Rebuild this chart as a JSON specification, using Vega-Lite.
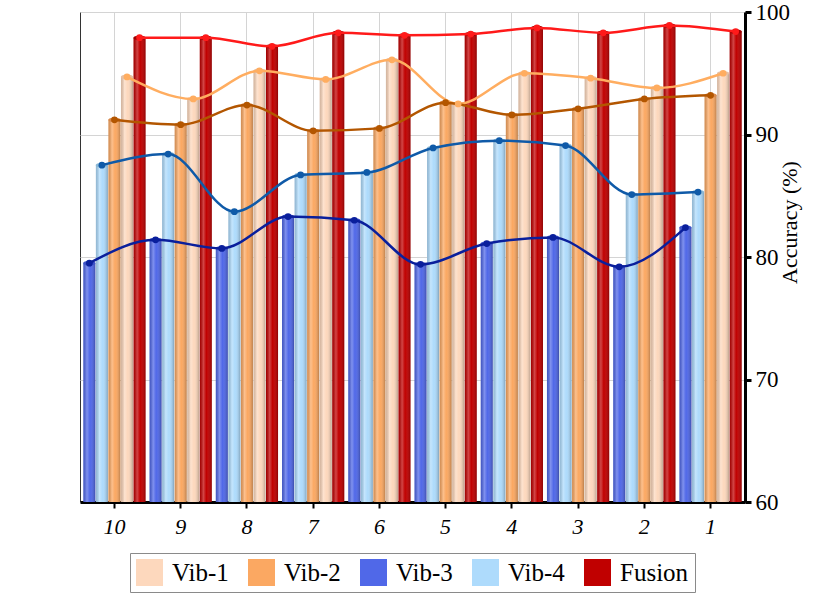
{
  "$schema": "https://vega.github.io/schema/vega-lite/v6.json",
  "width": 665,
  "height": 490,
  "autosize": {"type": "none"},
  "padding": {"left": 80, "top": 12, "right": 68, "bottom": 99},
  "background": "white",
  "config": {
    "font": "Liberation Serif, Times New Roman, Times, serif",
    "view": {"stroke": "#333333", "strokeWidth": 1}
  },
  "data": {
    "values": [
      {"fold": "10", "series": "Fusion", "acc": 97.9},
      {"fold": "9", "series": "Fusion", "acc": 97.9},
      {"fold": "8", "series": "Fusion", "acc": 97.2},
      {"fold": "7", "series": "Fusion", "acc": 98.3},
      {"fold": "6", "series": "Fusion", "acc": 98.1},
      {"fold": "5", "series": "Fusion", "acc": 98.2},
      {"fold": "4", "series": "Fusion", "acc": 98.7},
      {"fold": "3", "series": "Fusion", "acc": 98.3},
      {"fold": "2", "series": "Fusion", "acc": 98.9},
      {"fold": "1", "series": "Fusion", "acc": 98.4},
      {"fold": "10", "series": "Vib-1", "acc": 94.7},
      {"fold": "9", "series": "Vib-1", "acc": 92.9},
      {"fold": "8", "series": "Vib-1", "acc": 95.2},
      {"fold": "7", "series": "Vib-1", "acc": 94.5},
      {"fold": "6", "series": "Vib-1", "acc": 96.1},
      {"fold": "5", "series": "Vib-1", "acc": 92.5},
      {"fold": "4", "series": "Vib-1", "acc": 95.0},
      {"fold": "3", "series": "Vib-1", "acc": 94.6},
      {"fold": "2", "series": "Vib-1", "acc": 93.8},
      {"fold": "1", "series": "Vib-1", "acc": 95.0},
      {"fold": "10", "series": "Vib-2", "acc": 91.2},
      {"fold": "9", "series": "Vib-2", "acc": 90.8},
      {"fold": "8", "series": "Vib-2", "acc": 92.4},
      {"fold": "7", "series": "Vib-2", "acc": 90.3},
      {"fold": "6", "series": "Vib-2", "acc": 90.5},
      {"fold": "5", "series": "Vib-2", "acc": 92.6},
      {"fold": "4", "series": "Vib-2", "acc": 91.6},
      {"fold": "3", "series": "Vib-2", "acc": 92.1},
      {"fold": "2", "series": "Vib-2", "acc": 92.9},
      {"fold": "1", "series": "Vib-2", "acc": 93.2},
      {"fold": "10", "series": "Vib-4", "acc": 87.5},
      {"fold": "9", "series": "Vib-4", "acc": 88.4},
      {"fold": "8", "series": "Vib-4", "acc": 83.7},
      {"fold": "7", "series": "Vib-4", "acc": 86.7},
      {"fold": "6", "series": "Vib-4", "acc": 86.9},
      {"fold": "5", "series": "Vib-4", "acc": 88.9},
      {"fold": "4", "series": "Vib-4", "acc": 89.5},
      {"fold": "3", "series": "Vib-4", "acc": 89.1},
      {"fold": "2", "series": "Vib-4", "acc": 85.1},
      {"fold": "1", "series": "Vib-4", "acc": 85.3},
      {"fold": "10", "series": "Vib-3", "acc": 79.5},
      {"fold": "9", "series": "Vib-3", "acc": 81.4},
      {"fold": "8", "series": "Vib-3", "acc": 80.7},
      {"fold": "7", "series": "Vib-3", "acc": 83.3},
      {"fold": "6", "series": "Vib-3", "acc": 83.0},
      {"fold": "5", "series": "Vib-3", "acc": 79.4},
      {"fold": "4", "series": "Vib-3", "acc": 81.1},
      {"fold": "3", "series": "Vib-3", "acc": 81.6},
      {"fold": "2", "series": "Vib-3", "acc": 79.2},
      {"fold": "1", "series": "Vib-3", "acc": 82.4}
    ]
  },
  "encoding": {
    "x": {
      "field": "fold",
      "type": "ordinal",
      "sort": ["10", "9", "8", "7", "6", "5", "4", "3", "2", "1"],
      "scale": {"paddingInner": 0.06, "paddingOuter": 0.05},
      "axis": {
        "orient": "bottom",
        "title": null,
        "labelAngle": 0,
        "labelFontSize": 22,
        "labelFontStyle": "italic",
        "labelColor": "black",
        "labelPadding": 8,
        "domainColor": "black",
        "domainWidth": 3,
        "tickColor": "black",
        "tickWidth": 2,
        "tickSize": 6,
        "grid": true,
        "gridColor": "#d4d4d4"
      }
    },
    "xOffset": {
      "field": "series",
      "type": "nominal",
      "sort": ["Vib-3", "Vib-4", "Vib-2", "Vib-1", "Fusion"],
      "scale": {"paddingInner": 0.04}
    },
    "y": {
      "field": "acc",
      "type": "quantitative",
      "scale": {"domain": [60, 100], "zero": false, "nice": false},
      "axis": {
        "orient": "right",
        "values": [60, 70, 80, 90, 100],
        "title": "Accuracy (%)",
        "titleFontSize": 22,
        "titleFontWeight": "normal",
        "titleColor": "black",
        "titleAngle": 270,
        "titleX": 44,
        "titleY": 210,
        "titleAlign": "center",
        "titleBaseline": "middle",
        "labelFontSize": 23,
        "labelColor": "black",
        "labelPadding": 4,
        "domainColor": "black",
        "domainWidth": 3,
        "tickColor": "black",
        "tickWidth": 3,
        "tickSize": 6,
        "grid": true,
        "gridColor": "#d4d4d4"
      }
    }
  },
  "layer": [
    {
      "mark": {"type": "bar"},
      "encoding": {
        "y2": {"datum": 60},
        "color": {
          "field": "series",
          "type": "nominal",
          "scale": {
            "domain": ["Vib-1", "Vib-2", "Vib-3", "Vib-4", "Fusion"],
            "range": ["#fdd8bd", "#fba862", "#5068e8", "#aedbfc", "#c00000"]
          },
          "legend": {
            "orient": "none",
            "legendX": 50,
            "legendY": 541,
            "direction": "horizontal",
            "title": null,
            "symbolType": "square",
            "symbolSize": 729,
            "symbolStrokeWidth": 0,
            "symbolOpacity": 1,
            "labelFontSize": 25,
            "labelColor": "black",
            "labelOffset": 9,
            "columnPadding": 19,
            "strokeColor": "#8a8a8a",
            "fillColor": "white",
            "padding": 6
          }
        }
      }
    },
    {
      "mark": {
        "type": "bar",
        "fill": {
          "gradient": "linear",
          "x1": 0, "y1": 0, "x2": 1, "y2": 0,
          "stops": [
            {"offset": 0, "color": "rgba(0,0,0,0.16)"},
            {"offset": 0.3, "color": "rgba(255,255,255,0.28)"},
            {"offset": 0.55, "color": "rgba(255,255,255,0)"},
            {"offset": 1, "color": "rgba(0,0,0,0.26)"}
          ]
        }
      },
      "encoding": {"y2": {"datum": 60}}
    },
    {
      "mark": {
        "type": "point",
        "filled": true,
        "opacity": 1,
        "shape": "M -1 0 A 1 0.38 0 1 0 1 0 A 1 0.38 0 1 0 -1 0 Z",
        "size": 150
      },
      "encoding": {
        "color": {
          "field": "series",
          "type": "nominal",
          "scale": {
            "domain": ["Vib-1", "Vib-2", "Vib-3", "Vib-4", "Fusion"],
            "range": ["#e6bfa3", "#d98a4c", "#3d52c8", "#8ab7d6", "#a00000"]
          },
          "legend": null
        }
      }
    },
    {
      "mark": {"type": "line", "interpolate": "monotone", "strokeWidth": 2.5},
      "encoding": {
        "color": {
          "field": "series",
          "type": "nominal",
          "scale": {
            "domain": ["Vib-1", "Vib-2", "Vib-3", "Vib-4", "Fusion"],
            "range": ["#ffad60", "#b35600", "#0a1f9c", "#0f5aa8", "#ff1a1a"]
          },
          "legend": null
        }
      }
    },
    {
      "mark": {"type": "point", "filled": true, "opacity": 1, "size": 45},
      "encoding": {
        "color": {
          "field": "series",
          "type": "nominal",
          "scale": {
            "domain": ["Vib-1", "Vib-2", "Vib-3", "Vib-4", "Fusion"],
            "range": ["#ffad60", "#b35600", "#0a1f9c", "#0f5aa8", "#ff1a1a"]
          },
          "legend": null
        }
      }
    }
  ],
  "resolve": {"scale": {"color": "independent"}}
}
